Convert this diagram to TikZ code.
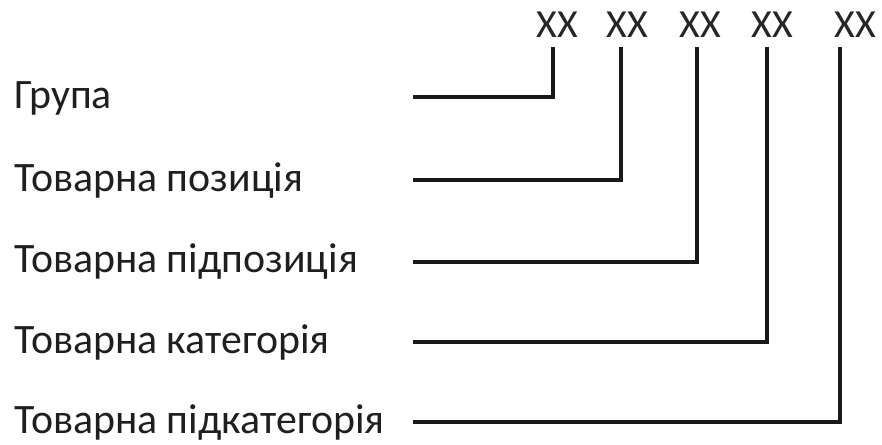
\documentclass[tikz,border=0pt]{standalone}
\usepackage{fontspec}
\setmainfont{Carlito}
\begin{document}
\begin{tikzpicture}[x=0.5bp,y=-0.5bp,
  lbl/.style={inner sep=0pt,anchor=base west,font=\fontsize{21}{24}\selectfont,text=black!88},
  code/.style={inner sep=0pt,anchor=base,font=\fontsize{20}{24}\selectfont,text=black!85},
  conn/.style={line width=2bp,draw=black!90}]
\useasboundingbox (0,0) rectangle (882,445);
% codes
\node[code] (x1) at (557,38) {XX};
\node[code] (x2) at (627,38) {XX};
\node[code] (x3) at (700,38) {XX};
\node[code] (x4) at (772,38) {XX};
\node[code] (x5) at (855,38) {XX};
% labels
\node[lbl] (l1) at (14,109) {Група};
\node[lbl] (l2) at (14,192) {Товарна позиція};
\node[lbl] (l3) at (14,273) {Товарна підпозиція};
\node[lbl] (l4) at (14,354) {Товарна категорія};
\node[lbl] (l5) at (14,434) {Товарна підкатегорія};
% connector ends
\coordinate (s1) at (413,97);
\coordinate (s2) at (413,180);
\coordinate (s3) at (413,262);
\coordinate (s4) at (413,342);
\coordinate (s5) at (413,422);
\coordinate (t1) at (553,47);
\coordinate (t2) at (621,47);
\coordinate (t3) at (697,47);
\coordinate (t4) at (767,47);
\coordinate (t5) at (840,47);
\draw[conn] (s1) -| (t1);
\draw[conn] (s2) -| (t2);
\draw[conn] (s3) -| (t3);
\draw[conn] (s4) -| (t4);
\draw[conn] (s5) -| (t5);
\end{tikzpicture}
\end{document}
